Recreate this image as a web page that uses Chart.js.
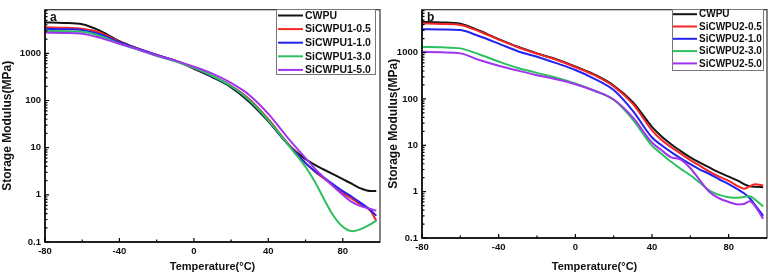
<!DOCTYPE html>
<html><head><meta charset="utf-8">
<script src="https://cdn.jsdelivr.net/npm/chart.js@4"></script>
<style>
html,body{margin:0;padding:0;background:#fff;}
#wrap{position:relative;width:772px;height:279px;overflow:hidden;}
.c{position:absolute;top:0;width:386px;height:279px;}
</style></head><body>
<div id="wrap">
<div class="c" style="left:0"><canvas id="ca" width="386" height="279"></canvas></div>
<div class="c" style="left:386px"><canvas id="cb" width="386" height="279"></canvas></div>
</div>
<script>
// ---------- data ----------
const xTicks = [-80, -40, 0, 40, 80];
const xMinorTicks = [-60, -20, 20, 60];
const yTicks = [0.1, 1, 10, 100, 1000];
const yTickLabels = ['0.1', '1', '10', '100', '1000'];
const yMinorFactors = [2, 3, 4, 5, 6, 7, 8, 9];

const namesA = ['CWPU', 'SiCWPU1-0.5', 'SiCWPU1-1.0', 'SiCWPU1-3.0', 'SiCWPU1-5.0'];
const namesB = ['CWPU', 'SiCWPU2-0.5', 'SiCWPU2-1.0', 'SiCWPU2-3.0', 'SiCWPU2-5.0'];

const tempsA = [-80,-70,-60,-50,-40,-30,-20,-10,0,10,20,30,40,50,55,60,65,70,75,80,85,90,95,98];
const cwpuA  = [4500,4400,4150,2950,1800,1250,920,690,470,310,190,92,36,12.5,8.2,5.7,4.3,3.4,2.7,2.15,1.7,1.35,1.2,1.2];
const sic05A = [3550,3500,3300,2700,1750,1250,920,700,490,330,205,105,40,13,7.8,4.7,3.1,2.2,1.55,1.1,0.82,0.62,0.45,0.28];
const sic10A = [3300,3250,3100,2500,1700,1250,920,700,490,325,200,100,38,12.5,7.6,4.7,3.2,2.3,1.65,1.2,0.9,0.66,0.47,0.36];
const sic30A = [3000,2950,2850,2300,1600,1200,880,680,490,330,200,100,38,12.5,7.0,3.9,1.9,0.8,0.36,0.21,0.17,0.19,0.24,0.28];
const sic50A = [2750,2700,2600,2100,1600,1200,900,700,520,370,235,128,52,17,10,6.0,3.6,2.3,1.5,1.0,0.7,0.57,0.5,0.46];

const tempsB = [-80,-70,-60,-50,-40,-30,-20,-10,0,10,20,30,40,45,50,55,60,65,70,75,80,85,88,91,94,98];
const cwpuB  = [4570,4450,4200,2960,1950,1330,960,720,500,335,195,85,25,15.5,10.5,7.5,5.5,4.2,3.3,2.6,2.1,1.7,1.45,1.3,1.27,1.25];
const sic05B = [4250,4150,3950,2850,1900,1300,940,700,485,325,186,78,21,13,9.1,6.6,4.8,3.6,2.7,2.1,1.7,1.3,1.15,1.3,1.45,1.35];
const sic10B = [3200,3150,3050,2240,1560,1070,810,590,420,272,155,55,14.7,10,7.1,5.2,3.9,3.0,2.4,1.85,1.45,1.1,0.92,0.72,0.5,0.3];
const sic30B = [1320,1300,1230,910,640,465,365,287,215,150,96,36,9.8,6.5,4.4,3.1,2.25,1.55,1.05,0.85,0.76,0.74,0.77,0.8,0.66,0.48];
const sic50B = [1040,1010,960,690,520,408,325,265,208,150,97,40,11.5,7.8,5.5,4.9,3.2,1.75,0.98,0.72,0.6,0.53,0.54,0.62,0.47,0.26];

const colors = ['#141414', '#f52525', '#2323f0', '#2ec060', '#a035ee'];

// ---------- helpers ----------
const FONT = 'Liberation Sans, Arial, Helvetica, sans-serif';

function makeDatasets(names, temps, series) {
  return series.map((vals, i) => ({
    label: names[i],
    data: temps.map((t, k) => ({x: t, y: vals[k]})),
    borderColor: colors[i],
    backgroundColor: colors[i],
    borderWidth: 2,
    pointRadius: 0,
    cubicInterpolationMode: 'monotone',
    fill: false,
    order: series.length - i
  }));
}

const framePlugin = {
  id: 'frame',
  afterDraw(chart, args, o) {
    const ctx = chart.ctx, a = chart.chartArea;
    const xs = chart.scales.x, ys = chart.scales.y;
    ctx.save();
    ctx.strokeStyle = '#333';
    ctx.lineWidth = 1.2;
    ctx.strokeRect(a.left, a.top, a.right - a.left, a.bottom - a.top);
    ctx.strokeStyle = '#000';
    ctx.lineWidth = 1.5;
    ctx.beginPath();
    ctx.moveTo(a.left, a.top); ctx.lineTo(a.left, a.bottom); ctx.lineTo(a.right, a.bottom);
    ctx.stroke();
    ctx.lineWidth = 1.2;
    ctx.beginPath();
    xTicks.forEach(v => { const p = xs.getPixelForValue(v); ctx.moveTo(p, a.bottom); ctx.lineTo(p, a.bottom - 4); });
    xMinorTicks.forEach(v => { const p = xs.getPixelForValue(v); ctx.moveTo(p, a.bottom); ctx.lineTo(p, a.bottom - 2.5); });
    yTicks.forEach(d => {
      const p = ys.getPixelForValue(d); ctx.moveTo(a.left, p); ctx.lineTo(a.left + 4, p);
      yMinorFactors.forEach(f => {
        const v = d * f;
        if (v <= ys.max) { const q = ys.getPixelForValue(v); ctx.moveTo(a.left, q); ctx.lineTo(a.left + 2.5, q); }
      });
    });
    ctx.stroke();
    const L = o.legend;
    ctx.fillStyle = '#fff';
    ctx.fillRect(L.x0, L.y0, L.x1 - L.x0, L.y1 - L.y0);
    ctx.strokeStyle = '#777';
    ctx.lineWidth = 1;
    ctx.strokeRect(L.x0 + 0.5, L.y0 + 0.5, L.x1 - L.x0, L.y1 - L.y0);
    ctx.font = 'bold ' + L.size + 'px ' + FONT;
    ctx.textBaseline = 'middle';
    ctx.textAlign = 'left';
    chart.data.datasets.forEach((ds, i) => {
      const y = L.row0 + i * L.step;
      ctx.strokeStyle = ds.borderColor;
      ctx.lineWidth = 2;
      ctx.beginPath(); ctx.moveTo(L.lx0, y); ctx.lineTo(L.lx1, y); ctx.stroke();
      ctx.fillStyle = '#111';
      ctx.fillText(ds.label, L.tx, y + 0.5);
    });
    ctx.font = 'bold 12px ' + FONT;
    ctx.fillStyle = '#111';
    ctx.textBaseline = 'alphabetic';
    ctx.fillText(o.letter, a.left + 5, a.top + 11);
    ctx.restore();
  }
};

function makeChart(id, names, temps, series, yW, xH, padRight, bottomPad, legend, letter) {
  return new Chart(document.getElementById(id), {
    type: 'line',
    data: {datasets: makeDatasets(names, temps, series)},
    options: {
      responsive: false,
      animation: false,
      layout: {padding: {left: 0, right: padRight, top: 3, bottom: 0}},
      plugins: {legend: {display: false}, tooltip: {enabled: false}, frame: {legend, letter}},
      scales: {
        x: {
          type: 'linear', min: -80, max: 100,
          grid: {display: false, drawTicks: false},
          border: {display: false},
          afterBuildTicks: s => { s.ticks = xTicks.map(v => ({value: v})); },
          afterFit: s => { s.height = xH; },
          ticks: {padding: 4, color: '#111', font: {family: FONT, size: 9.5, weight: 'bold'}, maxRotation: 0, autoSkip: false},
          title: {display: true, text: 'Temperature(°C)', color: '#111', padding: {top: 0, bottom: bottomPad}, font: {family: FONT, size: 11, weight: 'bold'}}
        },
        y: {
          type: 'logarithmic', min: 0.1, max: 8400,
          grid: {display: false, drawTicks: false},
          border: {display: false},
          afterBuildTicks: s => { s.ticks = yTicks.map(v => ({value: v})); },
          afterFit: s => { s.width = yW; },
          ticks: {padding: 4, color: '#111', font: {family: FONT, size: 9.5, weight: 'bold'}, autoSkip: false,
                  callback: (v) => { const k = yTicks.indexOf(v); return k >= 0 ? yTickLabels[k] : ''; }},
          title: {display: true, text: 'Storage Modulus(MPa)', color: '#111', padding: {top: 0, bottom: 0}, font: {family: FONT, size: 12, weight: 'bold'}}
        }
      }
    },
    plugins: [framePlugin]
  });
}

makeChart('ca', namesA, tempsA, [cwpuA, sic05A, sic10A, sic30A, sic50A], 45, 37, 6, 5,
  {x0: 276, y0: 9, x1: 375, y1: 74, lx0: 278, lx1: 303, tx: 305, row0: 15.5, step: 13.6, size: 10.5}, 'a');
makeChart('cb', namesB, tempsB, [cwpuB, sic05B, sic10B, sic30B, sic50B], 36, 41, 5, 5,
  {x0: 286, y0: 9, x1: 377, y1: 70, lx0: 287, lx1: 311, tx: 313, row0: 14.2, step: 12.3, size: 10}, 'b');
</script>
</body></html>
